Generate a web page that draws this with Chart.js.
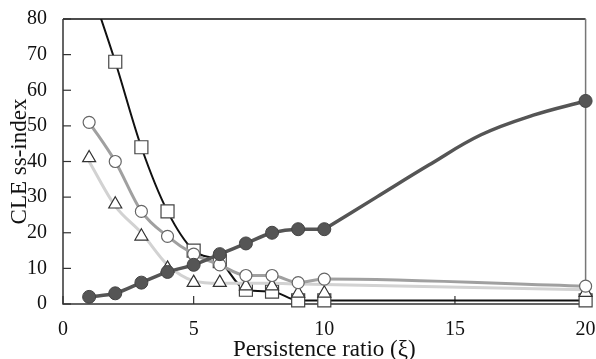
<!DOCTYPE html>
<html>
<head>
<meta charset="utf-8">
<script src="https://cdn.jsdelivr.net/npm/chart.js@4/dist/chart.umd.min.js"></script>
<style>
  body { margin: 0; background: #fff; }
  canvas { display: block; }
</style>
</head>
<body>
<canvas id="chart" width="596" height="359"></canvas>
<script>
// persistence ratio values where the markers sit
const ratios = [1, 2, 3, 4, 5, 6, 7, 8, 9, 10, 20];

// values
const filledCircles = [2, 3, 6, 9, 11, 14, 17, 20, 21, 21, 57];
const openCircles = [51, 40, 26, 19, 14, 11, 8, 8, 6, 7, 5];
const triangles = [41, 28, 19, 10, 6, 6, 5, 5, 3, 3, 3.2];
const squares = [90, 68, 44, 26, 15, 12, 4, 3.5, 1, 1, 1];

// smooth fitted curves
const filledFitX = [10, 12, 14, 16, 18, 20];
const filledFit = [21, 30, 39, 47.5, 53, 57];
const triangleFit = [40, 27.5, 20, 11, 6.5, 5.8, 5.8, 5.8, 5.6, 5.5, 4];

const xTicks = [0, 5, 10, 15, 20];
const yTicks = [0, 10, 20, 30, 40, 50, 60, 70, 80];

const pts = (xs, ys) => xs.map((x, i) => ({ x: x, y: ys[i] }));
const clipBox = { left: 12, top: 0, right: 12, bottom: 12 };

// plot frame and inward tick marks
const framePlugin = {
  id: "frame",
  beforeDatasetsDraw(chart) {
    const { ctx, chartArea: a, scales } = chart;
    ctx.save();
    ctx.lineWidth = 1.5;
    ctx.strokeStyle = "#111";
    ctx.beginPath();
    ctx.moveTo(a.left, a.top);
    ctx.lineTo(a.right, a.top);
    ctx.stroke();
    ctx.strokeStyle = "#777";
    ctx.beginPath();
    ctx.moveTo(a.right, a.top);
    ctx.lineTo(a.right, a.bottom);
    ctx.stroke();
    ctx.strokeStyle = "#333";
    ctx.beginPath();
    ctx.moveTo(a.left, a.top);
    ctx.lineTo(a.left, a.bottom);
    ctx.lineTo(a.right, a.bottom);
    ctx.stroke();
    ctx.lineWidth = 1.2;
    yTicks.forEach((v) => {
      const y = scales.y.getPixelForValue(v);
      ctx.beginPath();
      ctx.moveTo(a.left, y);
      ctx.lineTo(a.left + 8, y);
      ctx.stroke();
    });
    xTicks.forEach((v) => {
      const x = scales.x.getPixelForValue(v);
      ctx.beginPath();
      ctx.moveTo(x, a.bottom);
      ctx.lineTo(x, a.bottom - 8);
      ctx.stroke();
    });
    ctx.restore();
  },
};

const serif = "'Liberation Serif', 'DejaVu Serif', serif";

new Chart(document.getElementById("chart"), {
  type: "line",
  data: {
    datasets: [
      {
        data: pts(ratios, filledCircles),
        borderColor: "#555",
        borderWidth: 3.5,
        backgroundColor: "#555",
        pointBorderColor: "#444",
        pointBorderWidth: 1,
        pointRadius: 6.5,
        pointStyle: "circle",
        cubicInterpolationMode: "monotone",
        segment: {
          borderColor: (c) => (c.p1DataIndex === 10 ? "rgba(0,0,0,0)" : "#555"),
        },
        clip: clipBox,
      },
      {
        data: pts(filledFitX, filledFit),
        borderColor: "#555",
        borderWidth: 3.5,
        pointRadius: 0,
        tension: 0.4,
        clip: clipBox,
      },
      {
        data: pts(ratios, openCircles),
        borderColor: "#a0a0a0",
        borderWidth: 3,
        backgroundColor: "#fff",
        pointBorderColor: "#666",
        pointBorderWidth: 1.2,
        pointRadius: 6,
        pointStyle: "circle",
        cubicInterpolationMode: "monotone",
        clip: clipBox,
      },
      {
        data: pts(ratios, triangles),
        showLine: false,
        backgroundColor: "#fff",
        pointBorderColor: "#333",
        pointBorderWidth: 1.2,
        pointRadius: 7.5,
        pointStyle: "triangle",
        clip: clipBox,
      },
      {
        data: pts(ratios, triangleFit),
        borderColor: "#d2d2d2",
        borderWidth: 3,
        pointRadius: 0,
        cubicInterpolationMode: "monotone",
        clip: clipBox,
      },
      {
        data: pts(ratios, squares),
        borderColor: "#111",
        borderWidth: 2,
        backgroundColor: "#fff",
        pointBorderColor: "#444",
        pointBorderWidth: 1.2,
        pointRadius: 9.2,
        pointStyle: "rect",
        cubicInterpolationMode: "monotone",
        clip: clipBox,
      },
    ],
  },
  options: {
    responsive: false,
    animation: false,
    layout: { padding: { left: 0, right: 7, top: 19, bottom: 0 } },
    plugins: {
      legend: { display: false },
      tooltip: { enabled: false },
    },
    scales: {
      x: {
        type: "linear",
        min: 0,
        max: 20,
        afterBuildTicks: (s) => { s.ticks = xTicks.map((v) => ({ value: v })); },
        afterFit: (s) => {
          s.height = 55;
          s.paddingLeft = 0;
          s.paddingRight = 0;
        },
        grid: { display: false },
        border: { display: false },
        ticks: { color: "#111", font: { family: serif, size: 20 }, padding: 6 },
        title: {
          display: true,
          text: "Persistence ratio (ξ)",
          color: "#111",
          font: { family: serif, size: 23, lineHeight: 0.8 },
          padding: { top: 0, bottom: 0 },
        },
      },
      y: {
        min: 0,
        max: 80,
        afterBuildTicks: (s) => { s.ticks = yTicks.map((v) => ({ value: v })); },
        afterFit: (s) => {
          s.width = 63;
          s.paddingTop = 0;
          s.paddingBottom = 0;
        },
        grid: { display: false },
        border: { display: false },
        ticks: { color: "#111", font: { family: serif, size: 20 }, padding: 8 },
        title: {
          display: true,
          text: "CLE ss-index",
          color: "#111",
          font: { family: serif, size: 23, lineHeight: 0.8 },
          padding: { top: 11, bottom: 0 },
        },
      },
    },
  },
  plugins: [framePlugin],
});
</script>
</body>
</html>
